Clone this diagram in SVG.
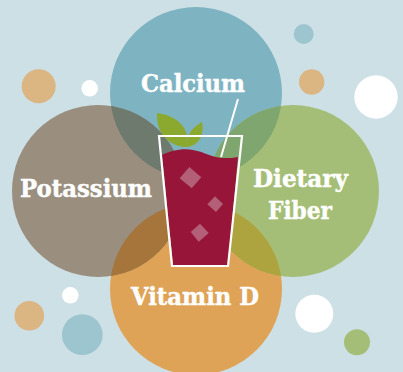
<svg xmlns="http://www.w3.org/2000/svg" width="403" height="372" viewBox="0 0 403 372">
<style>
.l{font-family:"DejaVu Serif Condensed","DejaVu Serif","Liberation Serif",serif;font-weight:700;font-size:25px;fill:#fff;stroke:#fff;stroke-width:.4;text-anchor:middle}
.w{fill:#fff}.o{fill:#DBB582}.t{fill:#9DC5CF}
</style>
<defs>
<clipPath id="cc"><circle cx="196" cy="93" r="86"/></clipPath>
<clipPath id="cv"><circle cx="196" cy="289" r="86"/></clipPath>
</defs>
<rect width="403" height="372" fill="#CDE0E6"/>
<g id="dots">
<circle class="o" cx="38.7" cy="86.3" r="17"/>
<circle class="w" cx="89.7" cy="88.3" r="8.3"/>
<circle class="t" cx="303.7" cy="34" r="10"/>
<circle class="o" cx="311.7" cy="82" r="12.7"/>
<circle class="w" cx="376" cy="97" r="21.7"/>
<circle class="w" cx="70.3" cy="295.3" r="8.3"/>
<circle class="o" cx="29.3" cy="315.7" r="14.8"/>
<circle class="t" cx="82.3" cy="334.7" r="20.4"/>
<circle class="w" cx="314.3" cy="313.7" r="19"/>
<circle cx="357" cy="342.3" r="13" fill="#A5BE77"/>
</g>
<g id="calcium"><circle cx="196" cy="93" r="86" fill="#7EB3C2"/></g>
<g id="vitamin-d"><circle cx="196" cy="289" r="86" fill="#DEA356"/></g>
<g id="potassium"><circle cx="98" cy="191" r="86" fill="#9A8F7F"/>
<circle cx="98" cy="191" r="86" fill="#6F7A6E" clip-path="url(#cc)"/>
<circle cx="98" cy="191" r="86" fill="#A5753C" clip-path="url(#cv)"/></g>
<g id="dietary-fiber"><circle cx="293" cy="191" r="86" fill="#A5BE77"/>
<circle cx="293" cy="191" r="86" fill="#7FA66E" clip-path="url(#cc)"/>
<circle cx="293" cy="191" r="86" fill="#AEA43F" clip-path="url(#cv)"/></g>
<g id="glass">
<path d="M157 113C178 116 190 128 187 147C170 147 156 134 157 113Z" fill="#8CA92F"/>
<path d="M202 122C193 127 186 134 187 147C197 146 205 137 202 122Z" fill="#8CA92F"/>
<path d="M162 155C170 151 182 148 193 150C205 152 212 158 224 158C230 158 234 158 238 157L228 265H173Z" fill="#961539"/>
<path d="M238 99L221 157" fill="none" stroke="#fff" stroke-width="2"/>
<path d="M159 136H242L228 266H172Z" fill="none" stroke="#fff" stroke-width="2.2"/>
<path d="M189.3 167L201.3 177.3L191.7 188.3L179.7 178.3Z" fill="#B35F78"/>
<path d="M215 196.3L223 204L216 212L207.3 204.3Z" fill="#B35F78"/>
<path d="M200 223.7L208.7 233L198.7 241.7L190.7 232Z" fill="#B35F78"/>
</g>
<g id="labels">
<text class="l" x="193" y="91.5" textLength="104" lengthAdjust="spacingAndGlyphs">Calcium</text>
<text class="l" x="86" y="196.5" textLength="132" lengthAdjust="spacingAndGlyphs">Potassium</text>
<text class="l" x="300.5" y="187" textLength="95" lengthAdjust="spacingAndGlyphs">Dietary</text>
<text class="l" x="300" y="219" textLength="64" lengthAdjust="spacingAndGlyphs">Fiber</text>
<text class="l" x="195" y="305" textLength="128" lengthAdjust="spacingAndGlyphs">Vitamin D</text>
</g>
</svg>
